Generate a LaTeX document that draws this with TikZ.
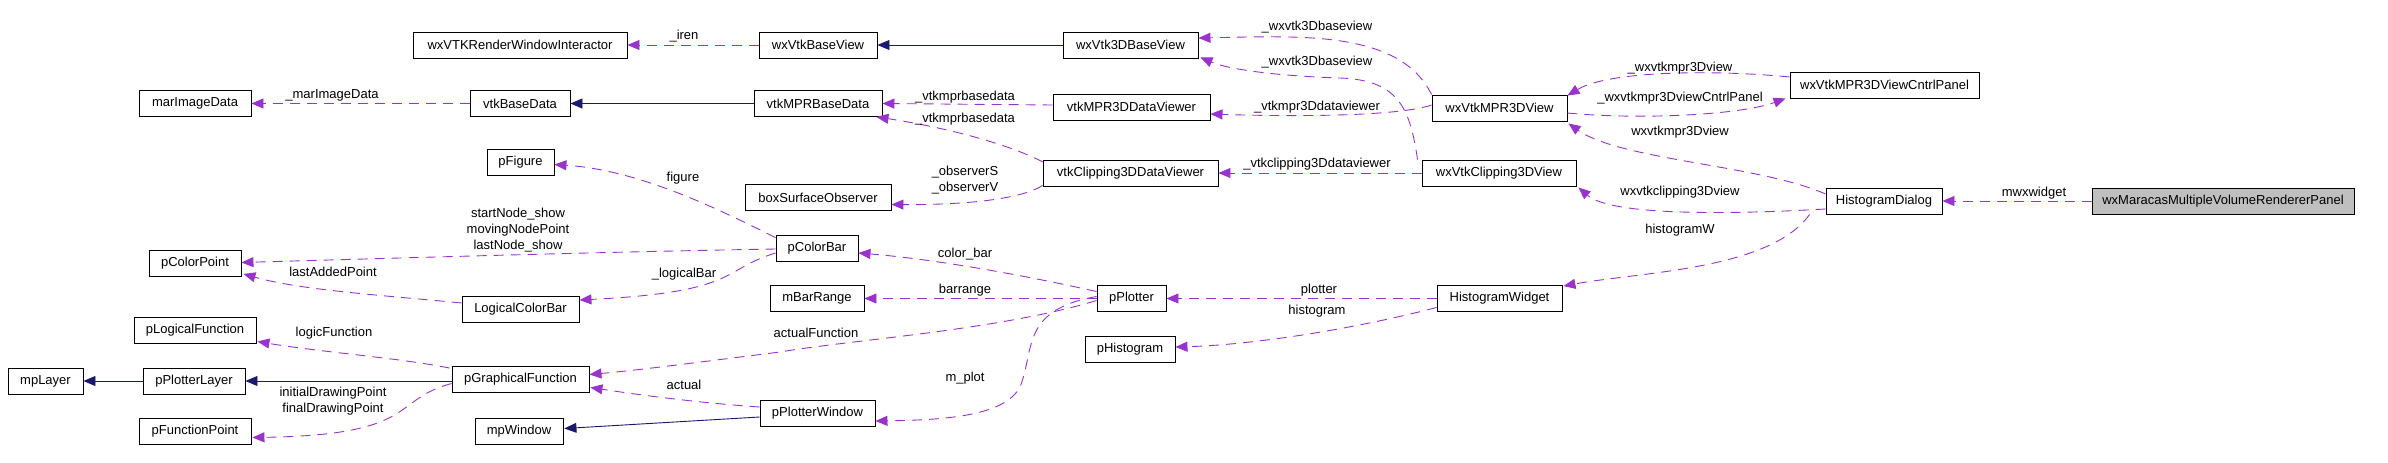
\documentclass[tikz,border=0pt]{standalone}
\usepackage{fontspec}
\setmainfont{Liberation Sans}
\usetikzlibrary{arrows.meta,calc}
\definecolor{usecol}{HTML}{9A32CD}
\definecolor{inhcol}{HTML}{191970}
\definecolor{boxgray}{HTML}{BFBFBF}
\tikzset{
  cls/.style={draw=black, line width=0.9pt, minimum height=26pt, inner sep=0pt, font=\fontsize{13}{16}\selectfont},
  lbl/.style={inner sep=0pt, align=center, font=\fontsize{13}{16}\selectfont},
  use/.style={draw=usecol, line width=0.9pt, dash pattern=on 10pt off 7pt, -{Triangle[length=12pt,width=10pt]}, color=usecol},
  inh/.style={draw=inhcol, line width=0.9pt, -{Triangle[length=12pt,width=10pt]}, color=inhcol}
}
\begin{document}
\begin{tikzpicture}[x=1pt,y=-1pt]
\useasboundingbox (0,0) rectangle (2388,463);
% classes
\node[cls, minimum width=214pt] (rwi) at (520,45) {wxVTKRenderWindowInteractor};
\node[cls, minimum width=118pt] (bv) at (818,45) {wxVtkBaseView};
\node[cls, minimum width=135pt] (b3d) at (1130.5,45) {wxVtk3DBaseView};
\node[cls, minimum width=112pt] (mid) at (195,103.5) {marImageData};
\node[cls, minimum width=100pt] (vbd) at (520,103.5) {vtkBaseData};
\node[cls, minimum width=128pt] (mpr) at (818,103.5) {vtkMPRBaseData};
\node[cls, minimum width=157pt] (mprv) at (1131.5,107) {vtkMPR3DDataViewer};
\node[cls, minimum width=135pt] (mprview) at (1499.5,108) {wxVtkMPR3DView};
\node[cls, minimum width=189pt] (cntrl) at (1884.5,85) {wxVtkMPR3DViewCntrlPanel};
\node[cls, minimum width=67pt] (pfig) at (520.5,162.5) {pFigure};
\node[cls, minimum width=146pt] (box) at (818,197.5) {boxSurfaceObserver};
\node[cls, minimum width=175pt] (clipv) at (1130.5,173) {vtkClipping3DDataViewer};
\node[cls, minimum width=154pt] (clipview) at (1499,173) {wxVtkClipping3DView};
\node[cls, minimum width=116pt] (hdlg) at (1884,201) {HistogramDialog};
\node[cls, minimum width=262pt, fill=boxgray] (maracas) at (2223,201) {wxMaracasMultipleVolumeRendererPanel};
\node[cls, minimum width=92pt] (pcp) at (195,263.5) {pColorPoint};
\node[cls, minimum width=82pt] (pcb) at (817,248) {pColorBar};
\node[cls, minimum width=117pt] (lcb) at (520.5,309) {LogicalColorBar};
\node[cls, minimum width=94pt] (mbr) at (817,298.5) {mBarRange};
\node[cls, minimum width=69pt] (ppl) at (1131.5,298.5) {pPlotter};
\node[cls, minimum width=125pt] (hw) at (1499.5,298.5) {HistogramWidget};
\node[cls, minimum width=122pt] (plf) at (195,330.5) {pLogicalFunction};
\node[cls, minimum width=90pt] (phist) at (1130,349) {pHistogram};
\node[cls, minimum width=75pt] (mpl) at (45.5,381) {mpLayer};
\node[cls, minimum width=102pt] (ppll) at (194,381) {pPlotterLayer};
\node[cls, minimum width=137pt] (pgf) at (520.5,379.5) {pGraphicalFunction};
\node[cls, minimum width=112pt] (pfp) at (195,431.5) {pFunctionPoint};
\node[cls, minimum width=88pt] (mpw) at (519,431.5) {mpWindow};
\node[cls, minimum width=115pt] (ppw) at (817.5,413) {pPlotterWindow};
% connectors
\draw[use] (bv.west) -- (rwi.east);
\draw[use] (vbd.west) -- (mid.east);
\draw[inh] (mpr.west) -- (vbd.east);
\draw[inh] (b3d.west) -- (bv.east);
\draw[use] ($(mprv.west)+(0,-2)$) -- (mpr.east);
\draw[use] ($(clipv)+(-87.5,-11)$) .. controls (1000,140) and (930,125) .. ($(mpr.south east)+(-6,0)$);
\draw[use] (mprview.north west) .. controls (1400,30) and (1300,36) .. ($(b3d.east)+(0,-7)$);
\draw[use] ($(clipview.north west)+(-4,0)$) .. controls (1410,110) and (1400,80) .. (1340,78) .. controls (1280,76) and (1230,70) .. ($(b3d.south east)+(2,-1)$);
\draw[use] ($(mprview.west)+(0,-3)$) .. controls (1400,116) and (1300,117) .. ($(mprv.east)+(0,7)$);
\draw[use] (clipview.west) -- (clipv.east);
\draw[use] ($(clipv.south west)+(0,-1)$) .. controls (1020,200) and (960,205) .. ($(box.east)+(0,7)$);
\draw[use] ($(cntrl.west)+(0,-8)$) .. controls (1720,70) and (1610,70) .. ($(mprview.north east)+(0,1)$);
\draw[use] ($(mprview.east)+(0,5)$) .. controls (1640,120) and (1740,115) .. ($(cntrl.south west)+(-4,0)$);
\draw[use] ($(hdlg.west)+(0,-7)$) .. controls (1760,165) and (1620,160) .. ($(mprview.south east)+(1,2)$);
\draw[use] ($(hdlg.west)+(0,8)$) .. controls (1720,215) and (1610,215) .. ($(clipview.south east)+(2,1)$);
\draw[use] ($(hdlg.south west)+(-16,0)$) .. controls (1770,270) and (1640,272) .. ($(hw.north east)+(1,1)$);
\draw[use] (maracas.west) -- (hdlg.east);
\draw[use] (hw.west) -- (ppl.east);
\draw[use] ($(hw.west)+(0,9)$) .. controls (1350,330) and (1250,345) .. ($(phist.east)+(0,-2)$);
\draw[use] ($(ppl.west)+(0,-7)$) .. controls (1000,270) and (920,258) .. ($(pcb.east)+(0,5)$);
\draw[use] (ppl.west) -- (mbr.east);
\draw[use] ($(ppl.west)+(0,2)$) .. controls (1000,330) and (850,340) .. (780,352) .. controls (700,362) and (640,370) .. ($(pgf.east)+(0,-5)$);
\draw[use] ($(ppl.west)+(0,-2)$) .. controls (1020,310) and (1035,350) .. (1020,387) .. controls (1005,415) and (950,420) .. ($(ppw.east)+(0,8)$);
\draw[use] ($(pcb.north west)+(0,3)$) .. controls (720,210) and (640,170) .. ($(pfig.east)+(0,2)$);
\draw[use] ($(pcb.west)+(0,1)$) .. controls (600,252) and (400,258) .. ($(pcp.east)+(0,-1)$);
\draw[use] ($(pcb.west)+(0,5)$) .. controls (720,270) and (740,292) .. ($(lcb.east)+(0,-9)$);
\draw[use] ($(lcb.west)+(0,-6)$) .. controls (380,295) and (300,290) .. ($(pcp.south east)+(2,-3)$);
\draw[use] ($(pgf.north west)+(-2,2)$) .. controls (400,358) and (320,352) .. ($(plf.east)+(1,11)$);
\draw[inh] ($(pgf.west)+(0,1.5)$) -- (ppll.east);
\draw[inh] (ppll.west) -- (mpl.east);
\draw[use] ($(pgf.west)+(0,4)$) .. controls (390,400) and (420,435) .. ($(pfp.east)+(1,6)$);
\draw[use] ($(ppw.west)+(0,-6)$) .. controls (700,403) and (640,395) .. ($(pgf.east)+(1,8)$);
\draw[inh] ($(ppw.west)+(0,4)$) -- ($(mpw.east)+(1,-3)$);
% labels
\node[lbl] (l1) at (684,36) {\_iren};
\node[lbl] (l2) at (332,95) {\_marImageData};
\node[lbl] (l3) at (965,97) {\_vtkmprbasedata};
\node[lbl] (l4) at (965,119) {\_vtkmprbasedata};
\node[lbl] (l5) at (1317,27) {\_wxvtk3Dbaseview};
\node[lbl] (l6) at (1317,62) {\_wxvtk3Dbaseview};
\node[lbl] (l7) at (1317,107) {\_vtkmpr3Ddataviewer};
\node[lbl] (l8) at (1317,164) {\_vtkclipping3Ddataviewer};
\node[lbl] (l9) at (965,180) {\_observerS\\\_observerV};
\node[lbl] (l10) at (1680,68) {\_wxvtkmpr3Dview};
\node[lbl] (l11) at (1680,98) {\_wxvtkmpr3DviewCntrlPanel};
\node[lbl] (l12) at (1680,132) {wxvtkmpr3Dview};
\node[lbl] (l13) at (1680,192) {wxvtkclipping3Dview};
\node[lbl] (l14) at (1680,230) {histogramW};
\node[lbl] (l15) at (2034,193) {mwxwidget};
\node[lbl] (l16) at (1319,290) {plotter};
\node[lbl] (l17) at (1317,311) {histogram};
\node[lbl] (l18) at (965,254) {color\_bar};
\node[lbl] (l19) at (965,290) {barrange};
\node[lbl] (l20) at (816,333) {actualFunction};
\node[lbl] (l21) at (965,378) {m\_plot};
\node[lbl] (l22) at (683,178) {figure};
\node[lbl] (l23) at (518,230) {startNode\_show\\movingNodePoint\\lastNode\_show};
\node[lbl] (l24) at (684,274) {\_logicalBar};
\node[lbl] (l25) at (333,272) {lastAddedPoint};
\node[lbl] (l26) at (334,333) {logicFunction};
\node[lbl] (l27) at (333,401) {initialDrawingPoint\\finalDrawingPoint};
\node[lbl] (l28) at (684,385) {actual};
\end{tikzpicture}
\end{document}
